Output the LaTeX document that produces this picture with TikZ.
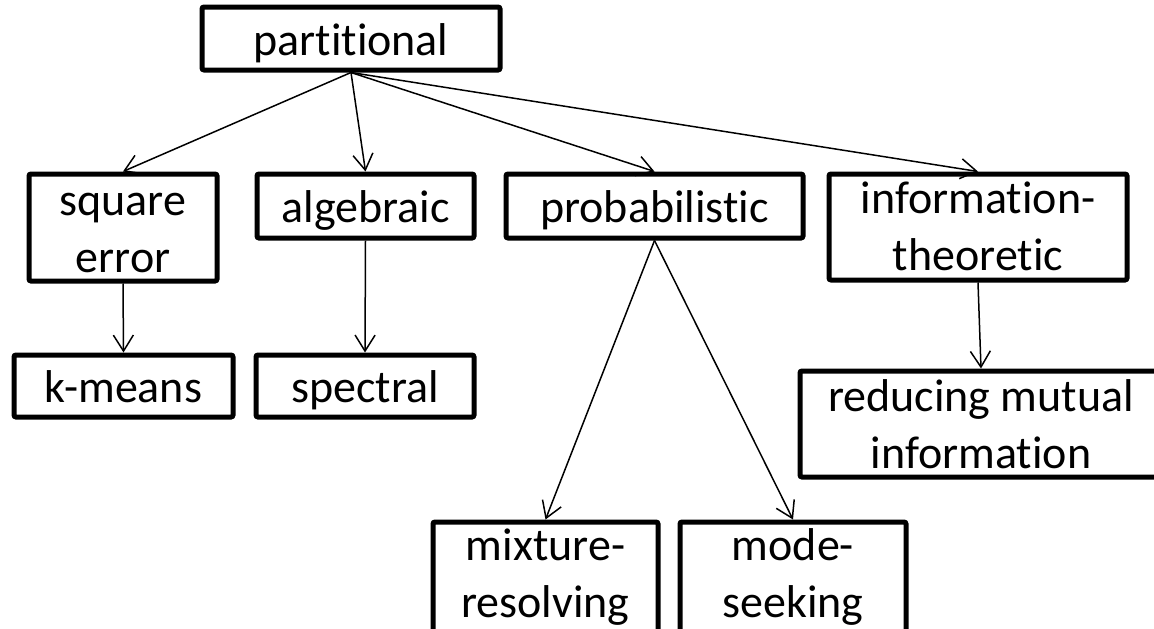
\documentclass[tikz,border=0pt]{standalone}
\usepackage{fontspec}
\setmainfont{Carlito}[Ligatures=NoCommon]
\usetikzlibrary{arrows.meta}
\begin{document}
\begin{tikzpicture}[x=1pt,y=-1pt,
  box/.style={draw, line width=5pt, rounded corners=2pt, inner sep=0pt,
    font=\fontsize{46}{57}\selectfont, align=center},
  one/.style={text height=36pt, text depth=3pt},
  two/.style={text height=93pt, text depth=4pt},
  conn/.style={line width=1.5pt, -{Straight Barb[length=16pt,width=20pt,line width=1.5pt]}}]
\useasboundingbox (0,0) rectangle (1154,629);
\clip (0,0) rectangle (1154,629);
\node[box, one, minimum width=298pt, minimum height=63pt] (part) at (351,38.5) {partitional};
\node[box, two, minimum width=188pt, minimum height=107pt] (sq) at (123,227.5) {square\\error};
\node[box, one, minimum width=217pt, minimum height=64pt] (alg) at (365.5,206) {algebraic};
\node[box, one, minimum width=297pt, minimum height=64pt] (prob) at (654.5,206) {probabilistic};
\node[box, two, text depth=7pt, minimum width=298pt, minimum height=106pt] (info) at (978,227) {information-\\theoretic};
\node[box, two, text depth=5pt, minimum width=362pt, minimum height=106pt] (red) at (981,424) {reducing mutual\\information};
\node[box, one, minimum width=219pt, minimum height=62pt] (km) at (123.5,386) {k-means};
\node[box, one, minimum width=218pt, minimum height=62pt] (spec) at (365,386) {spectral};
\node[box, two, text depth=15pt, minimum width=225pt, minimum height=112pt] (mix) at (545.5,578) {mixture-\\resolving};
\node[box, two, text depth=15pt, minimum width=226pt, minimum height=112pt] (mode) at (793,578) {mode-\\seeking};
\draw[conn] (part.south) -- (sq.north);
\draw[conn] (part.south) -- (alg.north);
\draw[conn] (part.south) -- (prob.north);
\draw[conn] (part.south) -- (info.north);
\draw[conn] (sq.south) -- (km.north);
\draw[conn] (alg.south) -- (spec.north);
\draw[conn] (prob.south) -- (mix.north);
\draw[conn] (prob.south) -- (mode.north);
\draw[conn] (info.south) -- (red.north);
\end{tikzpicture}
\end{document}
